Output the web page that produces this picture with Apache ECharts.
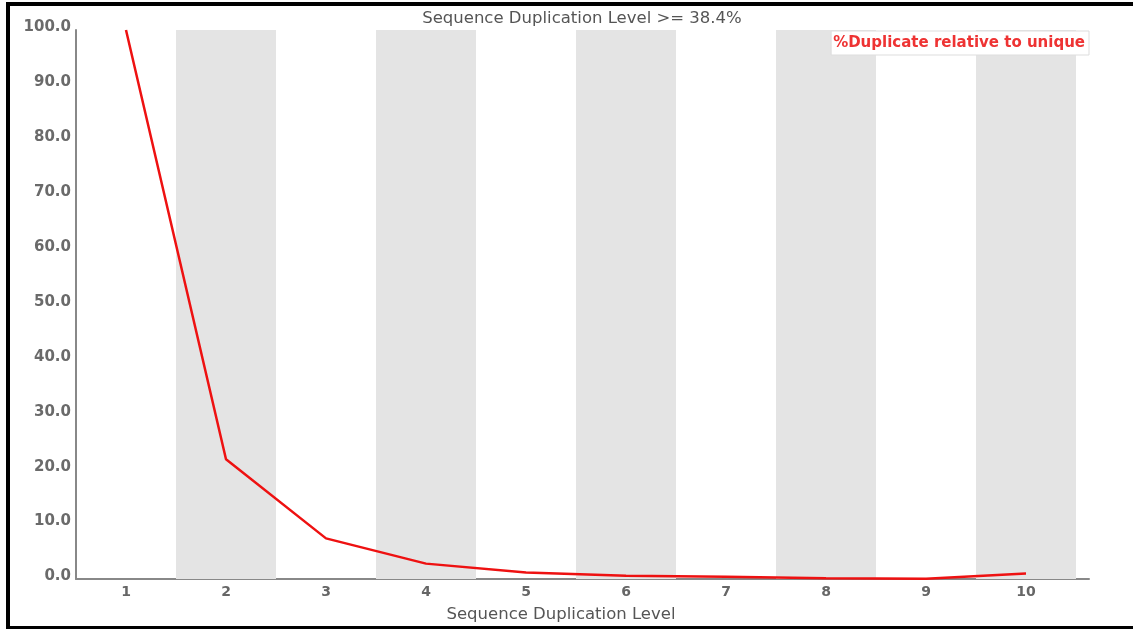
<!DOCTYPE html>
<html>
<head>
<meta charset="utf-8">
<script src="https://cdn.jsdelivr.net/npm/echarts@6/dist/echarts.min.js"></script>
<style>
html,body{margin:0;padding:0;background:#fff;overflow:hidden;}
#chart{position:absolute;left:0;top:0;width:1133px;height:629px;}
#frame{position:absolute;left:6px;top:2px;width:1140px;height:627px;box-sizing:border-box;border-top:4px solid #000;border-left:4px solid #000;border-bottom:3px solid #000;pointer-events:none;}
</style>
</head>
<body>
<div id="chart"></div>
<div id="frame"></div>
<script>
// Data
const categories = [1, 2, 3, 4, 5, 6, 7, 8, 9, 10];
const duplicateRelativeToUnique = [100, 21.8, 7.4, 2.8, 1.2, 0.6, 0.4, 0.15, 0.05, 1.0];
const yTicks = [0, 10, 20, 30, 40, 50, 60, 70, 80, 90, 100];
const titleText = 'Sequence Duplication Level >= 38.4%';
const xName = 'Sequence Duplication Level';
const seriesName = '%Duplicate relative to unique';

const FONT = 'DejaVu Sans';
const bands = categories.filter((c, i) => i % 2 === 1).map(c => [{xAxis: c - 0.5}, {xAxis: c + 0.5}]);

const chart = echarts.init(document.getElementById('chart'));
chart.setOption({
  animation: false,
  backgroundColor: '#fff',
  title: [
    {text: titleText, left: 577, top: 5, textAlign: 'center',
     textStyle: {fontFamily: FONT, fontSize: 16.5, fontWeight: 'normal', color: '#555'}},
    {text: xName, left: 556, top: 601, textAlign: 'center',
     textStyle: {fontFamily: FONT, fontSize: 16.5, fontWeight: 'normal', color: '#555'}}
  ],
  legend: {
    right: 44, top: 31, icon: 'none', itemWidth: 0, itemGap: 0,
    padding: [5, 4, 4, 0], borderColor: '#ddd', borderWidth: 1, backgroundColor: '#fff',
    textStyle: {fontFamily: FONT, fontSize: 15, fontWeight: 'bold', color: '#ee3333', padding: [0, 0, 0, -3]},
    data: [seriesName]
  },
  grid: {left: 76, right: 44, top: 30, bottom: 50, containLabel: false},
  xAxis: {
    type: 'value', min: 0.5, max: 10.63,
    axisLine: {show: true, lineStyle: {color: '#888', width: 2}},
    axisTick: {show: false},
    splitLine: {show: false},
    axisLabel: {customValues: categories, margin: 6, fontFamily: FONT, fontSize: 14, fontWeight: 'bold', color: '#666'}
  },
  yAxis: {
    type: 'value', min: 0, max: 100, interval: 10,
    axisLine: {show: true, lineStyle: {color: '#888', width: 2}},
    axisTick: {show: false},
    splitLine: {show: false},
    axisLabel: {
      customValues: yTicks, margin: 5, fontFamily: FONT, fontSize: 15, fontWeight: 'bold', color: '#6a6a6a',
      verticalAlign: 'bottom', lineHeight: 5,
      formatter: v => v.toFixed(1)
    }
  },
  series: [{
    name: seriesName, type: 'line', symbol: 'none',
    data: categories.map((c, i) => [c, duplicateRelativeToUnique[i]]),
    lineStyle: {color: '#ee1111', width: 2.5},
    itemStyle: {color: '#ee1111'},
    markArea: {silent: true, itemStyle: {color: '#e4e4e4'}, data: bands},
    z: 3
  }]
});
</script>
</body>
</html>
